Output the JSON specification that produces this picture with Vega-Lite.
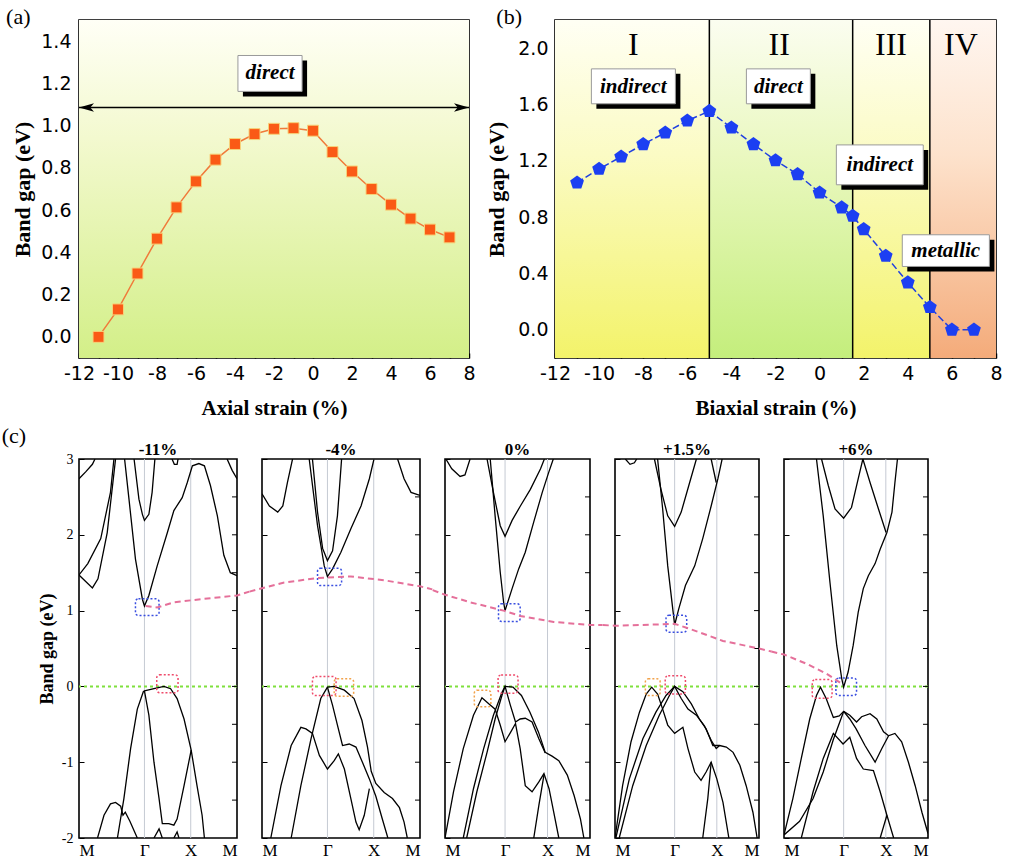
{
"$schema":"https://vega.github.io/schema/vega-lite/v6.json",
"background":"white",
"padding":{"left":0,"top":5,"right":11,"bottom":0},
"config":{"view":{"stroke":"black","strokeWidth":1.6},"axis":{"labelColor":"black","tickColor":"black","titleColor":"black","domain":false,"grid":false,"labelOverlap":false,"labelBound":false,"labelFlush":false}},
"datasets":{
"A":[{"x":-11,"y":0.0},{"x":-10,"y":0.13},{"x":-9,"y":0.30},{"x":-8,"y":0.465},{"x":-7,"y":0.613},{"x":-6,"y":0.736},{"x":-5,"y":0.839},{"x":-4,"y":0.913},{"x":-3,"y":0.96},{"x":-2,"y":0.985},{"x":-1,"y":0.988},{"x":0,"y":0.976},{"x":1,"y":0.875},{"x":2,"y":0.783},{"x":3,"y":0.70},{"x":4,"y":0.626},{"x":5,"y":0.56},{"x":6,"y":0.508},{"x":7,"y":0.471}],
"B":[{"x":-11,"y":1.045},{"x":-10,"y":1.142},{"x":-9,"y":1.229},{"x":-8,"y":1.317},{"x":-7,"y":1.40},{"x":-6,"y":1.485},{"x":-5,"y":1.553},{"x":-4,"y":1.435},{"x":-3,"y":1.317},{"x":-2,"y":1.203},{"x":-1,"y":1.104},{"x":0,"y":0.974},{"x":1,"y":0.868},{"x":1.5,"y":0.809},{"x":2,"y":0.714},{"x":3,"y":0.525},{"x":4,"y":0.336},{"x":5,"y":0.161},{"x":6,"y":0.0},{"x":7,"y":0.0}],
"kv":[{"k":1.4142},{"k":2.4142}],
"rt":[{"E":-1.5},{"E":-1},{"E":-0.5},{"E":0},{"E":0.5},{"E":1},{"E":1.5},{"E":2},{"E":2.5}],
"bands":[
{"p":1,"b":"c1","k":0,"E":2.74},{"p":1,"b":"c1","k":0.144,"E":2.83},{"p":1,"b":"c1","k":0.29,"E":2.93},{"p":1,"b":"c1","k":0.345,"E":3.0},
{"p":1,"b":"c2","k":0,"E":1.47},{"p":1,"b":"c2","k":0.19,"E":1.62},{"p":1,"b":"c2","k":0.47,"E":1.95},{"p":1,"b":"c2","k":0.68,"E":2.56},{"p":1,"b":"c2","k":0.755,"E":3.0},
{"p":1,"b":"c3","k":0,"E":1.47},{"p":1,"b":"c3","k":0.29,"E":1.30},{"p":1,"b":"c3","k":0.41,"E":1.42},{"p":1,"b":"c3","k":0.61,"E":2.03},{"p":1,"b":"c3","k":0.79,"E":3.0},
{"p":1,"b":"c4","k":0.985,"E":3.0},{"p":1,"b":"c4","k":1.08,"E":2.47},{"p":1,"b":"c4","k":1.22,"E":1.68},{"p":1,"b":"c4","k":1.37,"E":1.15},{"p":1,"b":"c4","k":1.414,"E":1.06},{"p":1,"b":"c4","k":1.51,"E":1.2},{"p":1,"b":"c4","k":1.69,"E":1.59},{"p":1,"b":"c4","k":1.91,"E":2.03},{"p":1,"b":"c4","k":2.05,"E":2.32},{"p":1,"b":"c4","k":2.23,"E":2.49},{"p":1,"b":"c4","k":2.34,"E":2.69},{"p":1,"b":"c4","k":2.45,"E":2.91},{"p":1,"b":"c4","k":2.59,"E":2.94},{"p":1,"b":"c4","k":2.71,"E":2.91},{"p":1,"b":"c4","k":2.84,"E":2.65},{"p":1,"b":"c4","k":2.99,"E":2.25},{"p":1,"b":"c4","k":3.13,"E":1.73},{"p":1,"b":"c4","k":3.27,"E":1.5},{"p":1,"b":"c4","k":3.414,"E":1.46},
{"p":1,"b":"c5","k":1.19,"E":3.0},{"p":1,"b":"c5","k":1.295,"E":2.47},{"p":1,"b":"c5","k":1.37,"E":2.27},{"p":1,"b":"c5","k":1.414,"E":2.19},{"p":1,"b":"c5","k":1.51,"E":2.27},{"p":1,"b":"c5","k":1.58,"E":2.56},{"p":1,"b":"c5","k":1.64,"E":3.0},
{"p":1,"b":"c6","k":2.01,"E":3.0},{"p":1,"b":"c6","k":2.06,"E":2.93},{"p":1,"b":"c6","k":2.12,"E":2.93},{"p":1,"b":"c6","k":2.14,"E":3.0},
{"p":1,"b":"c7","k":3.2,"E":3.0},{"p":1,"b":"c7","k":3.31,"E":2.85},{"p":1,"b":"c7","k":3.414,"E":2.74},
{"p":1,"b":"v1","k":0.83,"E":-2.0},{"p":1,"b":"v1","k":0.97,"E":-1.48},{"p":1,"b":"v1","k":1.115,"E":-0.82},{"p":1,"b":"v1","k":1.26,"E":-0.3},{"p":1,"b":"v1","k":1.39,"E":-0.07},{"p":1,"b":"v1","k":1.414,"E":-0.06},{"p":1,"b":"v1","k":1.62,"E":-0.03},{"p":1,"b":"v1","k":1.835,"E":0.0},{"p":1,"b":"v1","k":1.98,"E":-0.03},{"p":1,"b":"v1","k":2.12,"E":-0.16},{"p":1,"b":"v1","k":2.27,"E":-0.43},{"p":1,"b":"v1","k":2.424,"E":-0.84},{"p":1,"b":"v1","k":2.55,"E":-1.31},{"p":1,"b":"v1","k":2.66,"E":-1.70},{"p":1,"b":"v1","k":2.71,"E":-2.0},
{"p":1,"b":"v2","k":1.414,"E":-0.06},{"p":1,"b":"v2","k":1.51,"E":-0.38},{"p":1,"b":"v2","k":1.62,"E":-1.0},{"p":1,"b":"v2","k":1.73,"E":-1.48},{"p":1,"b":"v2","k":1.80,"E":-1.81},{"p":1,"b":"v2","k":1.94,"E":-1.81},{"p":1,"b":"v2","k":2.05,"E":-1.83},{"p":1,"b":"v2","k":2.12,"E":-1.75},{"p":1,"b":"v2","k":2.27,"E":-1.31},{"p":1,"b":"v2","k":2.424,"E":-0.84},
{"p":1,"b":"v3","k":0.40,"E":-2.0},{"p":1,"b":"v3","k":0.54,"E":-1.70},{"p":1,"b":"v3","k":0.68,"E":-1.55},{"p":1,"b":"v3","k":0.79,"E":-1.53},{"p":1,"b":"v3","k":0.9,"E":-1.58},{"p":1,"b":"v3","k":0.95,"E":-1.70},{"p":1,"b":"v3","k":1.0,"E":-1.66},{"p":1,"b":"v3","k":1.1,"E":-1.78},{"p":1,"b":"v3","k":1.26,"E":-2.0},
{"p":1,"b":"v5","k":1.62,"E":-2.0},{"p":1,"b":"v5","k":1.73,"E":-1.88},{"p":1,"b":"v5","k":1.80,"E":-2.0},
{"p":1,"b":"v6","k":2.05,"E":-2.0},{"p":1,"b":"v6","k":2.12,"E":-1.92},{"p":1,"b":"v6","k":2.16,"E":-2.0},
{"p":2,"b":"c1","k":0,"E":2.54},{"p":2,"b":"c1","k":0.16,"E":2.38},{"p":2,"b":"c1","k":0.34,"E":2.30},{"p":2,"b":"c1","k":0.45,"E":2.38},{"p":2,"b":"c1","k":0.55,"E":2.69},{"p":2,"b":"c1","k":0.66,"E":3.0},
{"p":2,"b":"c2","k":1.09,"E":3.0},{"p":2,"b":"c2","k":1.2,"E":2.3},{"p":2,"b":"c2","k":1.31,"E":1.82},{"p":2,"b":"c2","k":1.414,"E":1.66},{"p":2,"b":"c2","k":1.525,"E":1.79},{"p":2,"b":"c2","k":1.63,"E":2.25},{"p":2,"b":"c2","k":1.72,"E":3.0},
{"p":2,"b":"c3","k":1.02,"E":3.0},{"p":2,"b":"c3","k":1.20,"E":2.12},{"p":2,"b":"c3","k":1.345,"E":1.59},{"p":2,"b":"c3","k":1.414,"E":1.45},{"p":2,"b":"c3","k":1.525,"E":1.55},{"p":2,"b":"c3","k":1.705,"E":1.77},{"p":2,"b":"c3","k":1.92,"E":2.08},{"p":2,"b":"c3","k":2.14,"E":2.38},{"p":2,"b":"c3","k":2.32,"E":2.74},{"p":2,"b":"c3","k":2.42,"E":3.0},
{"p":2,"b":"c4","k":2.93,"E":3.0},{"p":2,"b":"c4","k":3.07,"E":2.74},{"p":2,"b":"c4","k":3.22,"E":2.56},{"p":2,"b":"c4","k":3.414,"E":2.52},
{"p":2,"b":"v1","k":0.63,"E":-2.0},{"p":2,"b":"v1","k":0.84,"E":-1.31},{"p":2,"b":"v1","k":1.06,"E":-0.69},{"p":2,"b":"v1","k":1.27,"E":-0.16},{"p":2,"b":"v1","k":1.414,"E":-0.01},{"p":2,"b":"v1","k":1.56,"E":0.0},{"p":2,"b":"v1","k":1.78,"E":-0.05},{"p":2,"b":"v1","k":1.99,"E":-0.16},{"p":2,"b":"v1","k":2.16,"E":-0.45},{"p":2,"b":"v1","k":2.28,"E":-0.8},{"p":2,"b":"v1","k":2.36,"E":-1.12},{"p":2,"b":"v1","k":2.46,"E":-1.28},{"p":2,"b":"v1","k":2.64,"E":-1.40},{"p":2,"b":"v1","k":2.82,"E":-1.48},{"p":2,"b":"v1","k":2.97,"E":-1.6},{"p":2,"b":"v1","k":3.07,"E":-1.79},{"p":2,"b":"v1","k":3.14,"E":-2.0},
{"p":2,"b":"v2","k":0.19,"E":-2.0},{"p":2,"b":"v2","k":0.41,"E":-1.31},{"p":2,"b":"v2","k":0.63,"E":-0.78},{"p":2,"b":"v2","k":0.84,"E":-0.54},{"p":2,"b":"v2","k":0.95,"E":-0.56},{"p":2,"b":"v2","k":1.09,"E":-0.62},{"p":2,"b":"v2","k":1.24,"E":-0.91},{"p":2,"b":"v2","k":1.414,"E":-1.09},{"p":2,"b":"v2","k":1.56,"E":-0.98},{"p":2,"b":"v2","k":1.65,"E":-0.89},{"p":2,"b":"v2","k":1.78,"E":-1.09},{"p":2,"b":"v2","k":1.92,"E":-1.48},{"p":2,"b":"v2","k":2.03,"E":-1.79},{"p":2,"b":"v2","k":2.10,"E":-1.89},{"p":2,"b":"v2","k":2.21,"E":-1.70},{"p":2,"b":"v2","k":2.32,"E":-1.35},
{"p":2,"b":"v3","k":1.414,"E":-0.01},{"p":2,"b":"v3","k":1.525,"E":-0.25},{"p":2,"b":"v3","k":1.63,"E":-0.51},{"p":2,"b":"v3","k":1.74,"E":-0.78},{"p":2,"b":"v3","k":1.885,"E":-0.76},{"p":2,"b":"v3","k":2.03,"E":-0.80},{"p":2,"b":"v3","k":2.17,"E":-1.0},{"p":2,"b":"v3","k":2.32,"E":-1.22},{"p":2,"b":"v3","k":2.46,"E":-1.45},{"p":2,"b":"v3","k":2.6,"E":-1.75},{"p":2,"b":"v3","k":2.72,"E":-2.0},
{"p":3,"b":"c1","k":0.02,"E":3.0},{"p":3,"b":"c1","k":0.16,"E":2.87},{"p":3,"b":"c1","k":0.355,"E":2.77},{"p":3,"b":"c1","k":0.47,"E":2.79},{"p":3,"b":"c1","k":0.59,"E":3.0},
{"p":3,"b":"c2","k":0.99,"E":3.0},{"p":3,"b":"c2","k":1.14,"E":2.56},{"p":3,"b":"c2","k":1.30,"E":2.12},{"p":3,"b":"c2","k":1.414,"E":1.98},{"p":3,"b":"c2","k":1.58,"E":2.19},{"p":3,"b":"c2","k":1.775,"E":2.38},{"p":3,"b":"c2","k":2.01,"E":2.60},{"p":3,"b":"c2","k":2.25,"E":2.87},{"p":3,"b":"c2","k":2.34,"E":3.0},
{"p":3,"b":"c3","k":1.065,"E":3.0},{"p":3,"b":"c3","k":1.18,"E":2.25},{"p":3,"b":"c3","k":1.30,"E":1.51},{"p":3,"b":"c3","k":1.38,"E":1.11},{"p":3,"b":"c3","k":1.414,"E":1.0},{"p":3,"b":"c3","k":1.58,"E":1.29},{"p":3,"b":"c3","k":1.735,"E":1.55},{"p":3,"b":"c3","k":1.89,"E":1.77},{"p":3,"b":"c3","k":2.09,"E":2.17},{"p":3,"b":"c3","k":2.29,"E":2.56},{"p":3,"b":"c3","k":2.44,"E":2.82},{"p":3,"b":"c3","k":2.55,"E":3.0},
{"p":3,"b":"v1","k":0.43,"E":-2.0},{"p":3,"b":"v1","k":0.67,"E":-1.35},{"p":3,"b":"v1","k":0.91,"E":-0.82},{"p":3,"b":"v1","k":1.14,"E":-0.38},{"p":3,"b":"v1","k":1.34,"E":-0.08},{"p":3,"b":"v1","k":1.414,"E":0.0},{"p":3,"b":"v1","k":1.6,"E":-0.01},{"p":3,"b":"v1","k":1.80,"E":-0.12},{"p":3,"b":"v1","k":2.0,"E":-0.34},{"p":3,"b":"v1","k":2.2,"E":-0.6},{"p":3,"b":"v1","k":2.36,"E":-0.87},{"p":3,"b":"v1","k":2.52,"E":-0.92},{"p":3,"b":"v1","k":2.68,"E":-0.98},{"p":3,"b":"v1","k":2.88,"E":-1.17},{"p":3,"b":"v1","k":3.04,"E":-1.44},{"p":3,"b":"v1","k":3.19,"E":-1.75},{"p":3,"b":"v1","k":3.27,"E":-2.0},
{"p":3,"b":"v2","k":0,"E":-2.0},{"p":3,"b":"v2","k":0.2,"E":-1.39},{"p":3,"b":"v2","k":0.43,"E":-0.82},{"p":3,"b":"v2","k":0.67,"E":-0.38},{"p":3,"b":"v2","k":0.87,"E":-0.15},{"p":3,"b":"v2","k":1.03,"E":-0.23},{"p":3,"b":"v2","k":1.18,"E":-0.30},{"p":3,"b":"v2","k":1.30,"E":-0.51},{"p":3,"b":"v2","k":1.414,"E":-0.73},{"p":3,"b":"v2","k":1.55,"E":-0.6},{"p":3,"b":"v2","k":1.66,"E":-0.49},{"p":3,"b":"v2","k":1.77,"E":-0.82},{"p":3,"b":"v2","k":1.89,"E":-1.31},{"p":3,"b":"v2","k":2.05,"E":-1.39},{"p":3,"b":"v2","k":2.21,"E":-1.26},{"p":3,"b":"v2","k":2.33,"E":-1.15},{"p":3,"b":"v2","k":2.45,"E":-1.35},{"p":3,"b":"v2","k":2.56,"E":-1.66},{"p":3,"b":"v2","k":2.68,"E":-2.0},
{"p":3,"b":"v3","k":0.51,"E":-2.0},{"p":3,"b":"v3","k":0.75,"E":-1.39},{"p":3,"b":"v3","k":0.99,"E":-0.87},{"p":3,"b":"v3","k":1.18,"E":-0.43},{"p":3,"b":"v3","k":1.34,"E":-0.12},{"p":3,"b":"v3","k":1.414,"E":0.0},{"p":3,"b":"v3","k":1.54,"E":-0.25},{"p":3,"b":"v3","k":1.66,"E":-0.47},{"p":3,"b":"v3","k":1.77,"E":-0.43},{"p":3,"b":"v3","k":1.89,"E":-0.42},{"p":3,"b":"v3","k":2.05,"E":-0.47},{"p":3,"b":"v3","k":2.21,"E":-0.69},{"p":3,"b":"v3","k":2.36,"E":-0.88},
{"p":3,"b":"v4","k":2.09,"E":-2.0},{"p":3,"b":"v4","k":2.21,"E":-1.57},{"p":3,"b":"v4","k":2.33,"E":-1.17},
{"p":4,"b":"c1","k":0.245,"E":3.0},{"p":4,"b":"c1","k":0.356,"E":2.93},{"p":4,"b":"c1","k":0.46,"E":2.95},{"p":4,"b":"c1","k":0.515,"E":3.0},
{"p":4,"b":"c2","k":0.935,"E":3.0},{"p":4,"b":"c2","k":1.09,"E":2.6},{"p":4,"b":"c2","k":1.25,"E":2.25},{"p":4,"b":"c2","k":1.414,"E":2.11},{"p":4,"b":"c2","k":1.57,"E":2.30},{"p":4,"b":"c2","k":1.75,"E":2.65},{"p":4,"b":"c2","k":1.93,"E":3.0},
{"p":4,"b":"c3","k":1.01,"E":3.0},{"p":4,"b":"c3","k":1.13,"E":2.34},{"p":4,"b":"c3","k":1.25,"E":1.59},{"p":4,"b":"c3","k":1.37,"E":1.02},{"p":4,"b":"c3","k":1.414,"E":0.81},{"p":4,"b":"c3","k":1.51,"E":1.02},{"p":4,"b":"c3","k":1.67,"E":1.33},{"p":4,"b":"c3","k":1.89,"E":1.59},{"p":4,"b":"c3","k":2.08,"E":1.95},{"p":4,"b":"c3","k":2.28,"E":2.38},{"p":4,"b":"c3","k":2.44,"E":2.74},{"p":4,"b":"c3","k":2.54,"E":3.0},
{"p":4,"b":"c4","k":2.28,"E":3.0},{"p":4,"b":"c4","k":2.40,"E":2.69},
{"p":4,"b":"v1","k":0,"E":-2.0},{"p":4,"b":"v1","k":0.18,"E":-1.31},{"p":4,"b":"v1","k":0.38,"E":-0.73},{"p":4,"b":"v1","k":0.58,"E":-0.34},{"p":4,"b":"v1","k":0.74,"E":-0.10},{"p":4,"b":"v1","k":0.87,"E":-0.01},{"p":4,"b":"v1","k":1.01,"E":-0.10},{"p":4,"b":"v1","k":1.13,"E":-0.30},{"p":4,"b":"v1","k":1.25,"E":-0.51},{"p":4,"b":"v1","k":1.414,"E":-0.62},{"p":4,"b":"v1","k":1.61,"E":-0.54},{"p":4,"b":"v1","k":1.73,"E":-0.82},{"p":4,"b":"v1","k":1.89,"E":-1.13},{"p":4,"b":"v1","k":2.04,"E":-1.24},{"p":4,"b":"v1","k":2.16,"E":-1.13},{"p":4,"b":"v1","k":2.28,"E":-1.0},{"p":4,"b":"v1","k":2.414,"E":-1.22},{"p":4,"b":"v1","k":2.56,"E":-1.53},{"p":4,"b":"v1","k":2.70,"E":-2.0},
{"p":4,"b":"v2","k":0.02,"E":-2.0},{"p":4,"b":"v2","k":0.34,"E":-1.22},{"p":4,"b":"v2","k":0.66,"E":-0.69},{"p":4,"b":"v2","k":0.97,"E":-0.34},{"p":4,"b":"v2","k":1.21,"E":-0.12},{"p":4,"b":"v2","k":1.414,"E":0.0},{"p":4,"b":"v2","k":1.61,"E":-0.07},{"p":4,"b":"v2","k":1.81,"E":-0.23},{"p":4,"b":"v2","k":2.0,"E":-0.43},{"p":4,"b":"v2","k":2.16,"E":-0.56},{"p":4,"b":"v2","k":2.32,"E":-0.78},{"p":4,"b":"v2","k":2.48,"E":-0.78},{"p":4,"b":"v2","k":2.64,"E":-0.80},{"p":4,"b":"v2","k":2.8,"E":-0.87},{"p":4,"b":"v2","k":2.96,"E":-1.04},{"p":4,"b":"v2","k":3.11,"E":-1.31},{"p":4,"b":"v2","k":3.27,"E":-1.66},{"p":4,"b":"v2","k":3.37,"E":-2.0},
{"p":4,"b":"v3","k":0.10,"E":-2.0},{"p":4,"b":"v3","k":0.42,"E":-1.31},{"p":4,"b":"v3","k":0.74,"E":-0.78},{"p":4,"b":"v3","k":1.05,"E":-0.38},{"p":4,"b":"v3","k":1.29,"E":-0.12},{"p":4,"b":"v3","k":1.414,"E":0.0},{"p":4,"b":"v3","k":1.57,"E":-0.16},{"p":4,"b":"v3","k":1.73,"E":-0.30},{"p":4,"b":"v3","k":1.93,"E":-0.38},{"p":4,"b":"v3","k":2.12,"E":-0.52},{"p":4,"b":"v3","k":2.28,"E":-0.71},{"p":4,"b":"v3","k":2.40,"E":-0.82},{"p":4,"b":"v3","k":2.48,"E":-0.78},
{"p":4,"b":"v4","k":2.08,"E":-2.0},{"p":4,"b":"v4","k":2.2,"E":-1.48},{"p":4,"b":"v4","k":2.28,"E":-1.0},
{"p":5,"b":"c1","k":0.77,"E":3.0},{"p":5,"b":"c1","k":0.93,"E":2.25},{"p":5,"b":"c1","k":1.09,"E":1.37},{"p":5,"b":"c1","k":1.25,"E":0.54},{"p":5,"b":"c1","k":1.37,"E":0.10},{"p":5,"b":"c1","k":1.414,"E":-0.01},{"p":5,"b":"c1","k":1.52,"E":0.19},{"p":5,"b":"c1","k":1.64,"E":0.54},{"p":5,"b":"c1","k":1.76,"E":0.98},{"p":5,"b":"c1","k":1.88,"E":1.29},{"p":5,"b":"c1","k":2.0,"E":1.46},{"p":5,"b":"c1","k":2.16,"E":1.62},{"p":5,"b":"c1","k":2.28,"E":1.81},{"p":5,"b":"c1","k":2.44,"E":2.03},{"p":5,"b":"c1","k":2.56,"E":2.30},{"p":5,"b":"c1","k":2.63,"E":2.69},{"p":5,"b":"c1","k":2.69,"E":3.0},
{"p":5,"b":"c2","k":0.89,"E":3.0},{"p":5,"b":"c2","k":1.05,"E":2.65},{"p":5,"b":"c2","k":1.21,"E":2.34},{"p":5,"b":"c2","k":1.414,"E":2.22},{"p":5,"b":"c2","k":1.60,"E":2.36},{"p":5,"b":"c2","k":1.76,"E":2.74},{"p":5,"b":"c2","k":1.87,"E":3.0},
{"p":5,"b":"c3","k":1.87,"E":3.0},{"p":5,"b":"c3","k":2.04,"E":2.69},{"p":5,"b":"c3","k":2.24,"E":2.34},{"p":5,"b":"c3","k":2.42,"E":2.03},
{"p":5,"b":"v1","k":0,"E":-1.96},{"p":5,"b":"v1","k":0.21,"E":-1.48},{"p":5,"b":"v1","k":0.41,"E":-0.95},{"p":5,"b":"v1","k":0.61,"E":-0.43},{"p":5,"b":"v1","k":0.77,"E":-0.12},{"p":5,"b":"v1","k":0.865,"E":-0.01},{"p":5,"b":"v1","k":1.0,"E":-0.16},{"p":5,"b":"v1","k":1.17,"E":-0.41},{"p":5,"b":"v1","k":1.31,"E":-0.39},{"p":5,"b":"v1","k":1.414,"E":-0.33},{"p":5,"b":"v1","k":1.56,"E":-0.43},{"p":5,"b":"v1","k":1.71,"E":-0.56},{"p":5,"b":"v1","k":1.92,"E":-0.78},{"p":5,"b":"v1","k":2.16,"E":-1.0},{"p":5,"b":"v1","k":2.32,"E":-0.82},{"p":5,"b":"v1","k":2.48,"E":-0.65},{"p":5,"b":"v1","k":2.63,"E":-0.62},{"p":5,"b":"v1","k":2.79,"E":-0.73},{"p":5,"b":"v1","k":2.95,"E":-1.0},{"p":5,"b":"v1","k":3.11,"E":-1.31},{"p":5,"b":"v1","k":3.27,"E":-1.66},{"p":5,"b":"v1","k":3.414,"E":-1.94},
{"p":5,"b":"v2","k":1.414,"E":-0.33},{"p":5,"b":"v2","k":1.56,"E":-0.38},{"p":5,"b":"v2","k":1.72,"E":-0.47},{"p":5,"b":"v2","k":1.84,"E":-0.40},{"p":5,"b":"v2","k":2.04,"E":-0.36},{"p":5,"b":"v2","k":2.2,"E":-0.43},{"p":5,"b":"v2","k":2.36,"E":-0.6},{"p":5,"b":"v2","k":2.48,"E":-0.65},
{"p":5,"b":"v3","k":0.41,"E":-2.0},{"p":5,"b":"v3","k":0.69,"E":-1.39},{"p":5,"b":"v3","k":0.93,"E":-0.95},{"p":5,"b":"v3","k":1.17,"E":-0.62},{"p":5,"b":"v3","k":1.40,"E":-0.76},{"p":5,"b":"v3","k":1.56,"E":-0.67},{"p":5,"b":"v3","k":1.72,"E":-0.95},{"p":5,"b":"v3","k":1.88,"E":-1.09},{"p":5,"b":"v3","k":2.12,"E":-1.11},{"p":5,"b":"v3","k":2.28,"E":-1.39},{"p":5,"b":"v3","k":2.44,"E":-1.70},{"p":5,"b":"v3","k":2.6,"E":-2.0},
{"p":5,"b":"v4","k":0,"E":-1.96},{"p":5,"b":"v4","k":0.37,"E":-1.78},{"p":5,"b":"v4","k":0.69,"E":-1.48},{"p":5,"b":"v4","k":0.93,"E":-1.13},{"p":5,"b":"v4","k":1.17,"E":-0.70},{"p":5,"b":"v4","k":1.414,"E":-0.33},
{"p":5,"b":"v5","k":2.28,"E":-2.0},{"p":5,"b":"v5","k":2.44,"E":-1.70}
],
"boxes":[
{"p":1,"kind":"c","k1":1.22,"k2":1.73,"E1":0.935,"E2":1.155},{"p":1,"kind":"v","k1":1.68,"k2":2.14,"E1":-0.084,"E2":0.153},
{"p":2,"kind":"c","k1":1.20,"k2":1.72,"E1":1.33,"E2":1.56},{"p":2,"kind":"v","k1":1.09,"k2":1.60,"E1":-0.12,"E2":0.13},{"p":2,"kind":"o","k1":1.56,"k2":1.98,"E1":-0.13,"E2":0.10},
{"p":3,"kind":"c","k1":1.26,"k2":1.77,"E1":0.856,"E2":1.09},{"p":3,"kind":"v","k1":1.25,"k2":1.72,"E1":-0.09,"E2":0.15},{"p":3,"kind":"o","k1":0.69,"k2":1.08,"E1":-0.27,"E2":-0.05},
{"p":4,"kind":"c","k1":1.21,"k2":1.70,"E1":0.715,"E2":0.94},{"p":4,"kind":"v","k1":1.19,"k2":1.67,"E1":-0.1,"E2":0.14},{"p":4,"kind":"o","k1":0.72,"k2":1.07,"E1":-0.12,"E2":0.10},
{"p":5,"kind":"c","k1":1.23,"k2":1.72,"E1":-0.12,"E2":0.11},{"p":5,"kind":"v","k1":0.67,"k2":1.14,"E1":-0.155,"E2":0.09}
],
"pink":[
{"p":1,"k":1.44,"E":1.06},{"p":1,"k":1.69,"E":1.04},{"p":1,"k":2.05,"E":1.11},{"p":1,"k":2.63,"E":1.15},{"p":1,"k":3.414,"E":1.2},{"p":1,"k":3.68,"E":1.25},
{"p":2,"k":-0.27,"E":1.25},{"p":2,"k":0,"E":1.295},{"p":2,"k":0.48,"E":1.37},{"p":2,"k":1.2,"E":1.43},{"p":2,"k":1.92,"E":1.45},{"p":2,"k":2.64,"E":1.40},{"p":2,"k":3.414,"E":1.32},{"p":2,"k":3.68,"E":1.28},
{"p":3,"k":-0.29,"E":1.27},{"p":3,"k":0,"E":1.21},{"p":3,"k":0.59,"E":1.11},{"p":3,"k":1.38,"E":1.0},{"p":3,"k":1.77,"E":0.93},{"p":3,"k":2.56,"E":0.85},{"p":3,"k":3.414,"E":0.81},{"p":3,"k":3.71,"E":0.81},
{"p":4,"k":-0.29,"E":0.81},{"p":4,"k":0,"E":0.80},{"p":4,"k":0.58,"E":0.81},{"p":4,"k":1.414,"E":0.825},{"p":4,"k":1.77,"E":0.76},{"p":4,"k":2.56,"E":0.60},{"p":4,"k":3.414,"E":0.50},{"p":4,"k":3.71,"E":0.46},
{"p":5,"k":-0.3,"E":0.46},{"p":5,"k":0,"E":0.42},{"p":5,"k":0.53,"E":0.30},{"p":5,"k":1.0,"E":0.17},{"p":5,"k":1.33,"E":0.05}
],
"ttl":[{"p":1,"k":1.7071,"E":3.115,"t":"-11%"},{"p":2,"k":1.7071,"E":3.115,"t":"-4%"},{"p":3,"k":1.7071,"E":3.115,"t":"0%"},{"p":4,"k":1.7071,"E":3.115,"t":"+1.5%"},{"p":5,"k":1.7071,"E":3.115,"t":"+6%"}]
},
"spacing":5,
"vconcat":[
{"hconcat":[
{"width":390,"height":338,
"encoding":{"x":{"field":"x","type":"quantitative","scale":{"domain":[-12,8]},"axis":{"values":[-12,-11,-10,-9,-8,-7,-6,-5,-4,-3,-2,-1,0,1,2,3,4,5,6,7,8],"labelExpr":"round(datum.value) % 2 == 0 ? '' + datum.value : ''","labelOverlap":false,"labelFlush":false,"tickSize":-5,"tickWidth":1.5,"labelPadding":11,"labelFont":"DejaVu Sans","labelFontSize":19,"title":"Axial strain (%)","titleFont":"Liberation Serif","titleFontSize":21,"titleFontWeight":"bold","titlePadding":14}},
"y":{"field":"y","type":"quantitative","scale":{"domain":[-0.1,1.5]},"axis":{"values":[0,0.1,0.2,0.3,0.4,0.5,0.6,0.7,0.8,0.9,1.0,1.1,1.2,1.3,1.4],"labelExpr":"round(datum.value*10) % 2 == 0 ? format(datum.value, '.1f') : ''","labelOverlap":false,"tickSize":-5,"tickWidth":1.5,"labelPadding":13,"labelFont":"DejaVu Sans","labelFontSize":19,"title":"Band gap (eV)","titleFont":"Liberation Serif","titleFontSize":22,"titleFontWeight":"bold","titlePadding":6}}},
"layer":[
{"data":{"values":[{"x":-12,"x2":8,"y":-0.1,"y2":1.5}]},"mark":{"type":"rect","color":{"gradient":"linear","x1":0,"y1":0,"x2":0,"y2":1,"stops":[{"offset":0,"color":"#fffff6"},{"offset":0.35,"color":"#f3f9cf"},{"offset":1,"color":"#d3ef88"}]}},"encoding":{"x2":{"field":"x2"},"y2":{"field":"y2"}}},
{"data":{"values":[{"x":-12,"x2":8,"y":1.086}]},"mark":{"type":"rule","color":"black","strokeWidth":1.5},"encoding":{"x2":{"field":"x2"}}},
{"data":{"values":[{"x":-12,"y":1.086,"dir":"l"},{"x":8,"y":1.086,"dir":"r"}]},"mark":{"type":"point","filled":true,"color":"black","size":900,"opacity":1},
"encoding":{"shape":{"field":"dir","type":"nominal","scale":{"domain":["l","r"],"range":["M0,0L1,-0.28L0.75,0L1,0.28Z","M0,0L-1,-0.28L-0.75,0L-1,0.28Z"]},"legend":null}}},
{"data":{"values":[{"x":-3.85,"x2":-0.56,"y":1.162,"y2":1.332}]},"mark":{"type":"rect","color":"black","xOffset":5,"x2Offset":5,"yOffset":5,"y2Offset":5},"encoding":{"x2":{"field":"x2"},"y2":{"field":"y2"}}},
{"data":{"values":[{"x":-3.85,"x2":-0.56,"y":1.162,"y2":1.332}]},"mark":{"type":"rect","fill":"white","stroke":"#9a9a9a","strokeWidth":1},"encoding":{"x2":{"field":"x2"},"y2":{"field":"y2"}}},
{"data":{"values":[{"x":-2.2,"y":1.247,"t":"direct"}]},"mark":{"type":"text","align":"center","baseline":"middle","font":"Liberation Serif","fontSize":21,"fontStyle":"italic","fontWeight":"bold","color":"black"},"encoding":{"text":{"field":"t"}}},
{"data":{"values":[{"x":-15.74,"y":1.514,"t":"(a)"}]},"mark":{"type":"text","align":"left","baseline":"middle","font":"Liberation Serif","fontSize":22,"color":"black"},"encoding":{"text":{"field":"t"}}},
{"data":{"name":"A"},"mark":{"type":"line","color":"#f07a3a","strokeWidth":1.5},"encoding":{}},
{"data":{"name":"A"},"mark":{"type":"point","shape":"square","filled":true,"size":120,"color":"#fa5a16","opacity":1,"stroke":"#f6d27a","strokeWidth":1},"encoding":{}}
]},
{"width":441,"height":338,
"encoding":{"x":{"field":"x","type":"quantitative","scale":{"domain":[-12,8]},"axis":{"values":[-12,-11,-10,-9,-8,-7,-6,-5,-4,-3,-2,-1,0,1,2,3,4,5,6,7,8],"labelExpr":"round(datum.value) % 2 == 0 ? '' + datum.value : ''","labelOverlap":false,"labelFlush":false,"tickSize":-5,"tickWidth":1.5,"labelPadding":11,"labelFont":"DejaVu Sans","labelFontSize":19,"title":"Biaxial strain (%)","titleFont":"Liberation Serif","titleFontSize":21,"titleFontWeight":"bold","titlePadding":14}},
"y":{"field":"y","type":"quantitative","scale":{"domain":[-0.2,2.2]},"axis":{"values":[0,0.2,0.4,0.6,0.8,1.0,1.2,1.4,1.6,1.8,2.0],"labelExpr":"round(datum.value*10) % 4 == 0 ? format(datum.value, '.1f') : ''","labelOverlap":false,"tickSize":-5,"tickWidth":1.5,"labelPadding":12,"labelFont":"DejaVu Sans","labelFontSize":19,"title":"Band gap (eV)","titleFont":"Liberation Serif","titleFontSize":22,"titleFontWeight":"bold","titlePadding":9}}},
"layer":[
{"data":{"values":[{"x":-12,"x2":-5,"y":-0.2,"y2":2.2}]},"mark":{"type":"rect","color":{"gradient":"linear","x1":0,"y1":0,"x2":0,"y2":1,"stops":[{"offset":0,"color":"#fffff4"},{"offset":0.4,"color":"#fbfbc4"},{"offset":1,"color":"#f3f36a"}]}},"encoding":{"x2":{"field":"x2"},"y2":{"field":"y2"}}},
{"data":{"values":[{"x":-5,"x2":1.5,"y":-0.2,"y2":2.2}]},"mark":{"type":"rect","color":{"gradient":"linear","x1":0,"y1":0,"x2":0,"y2":1,"stops":[{"offset":0,"color":"#fbfdf0"},{"offset":0.4,"color":"#eaf8c0"},{"offset":1,"color":"#c4ee7c"}]}},"encoding":{"x2":{"field":"x2"},"y2":{"field":"y2"}}},
{"data":{"values":[{"x":1.5,"x2":5,"y":-0.2,"y2":2.2}]},"mark":{"type":"rect","color":{"gradient":"linear","x1":0,"y1":0,"x2":0,"y2":1,"stops":[{"offset":0,"color":"#fffff4"},{"offset":0.4,"color":"#fbfbc4"},{"offset":1,"color":"#f3f36a"}]}},"encoding":{"x2":{"field":"x2"},"y2":{"field":"y2"}}},
{"data":{"values":[{"x":5,"x2":8,"y":-0.2,"y2":2.2}]},"mark":{"type":"rect","color":{"gradient":"linear","x1":0,"y1":0,"x2":0,"y2":1,"stops":[{"offset":0,"color":"#fff6f0"},{"offset":0.4,"color":"#fde2cc"},{"offset":1,"color":"#f4ab7a"}]}},"encoding":{"x2":{"field":"x2"},"y2":{"field":"y2"}}},
{"data":{"values":[{"x":-5,"y":-0.2,"y2":2.2},{"x":1.5,"y":-0.2,"y2":2.2},{"x":5,"y":-0.2,"y2":2.2}]},"mark":{"type":"rule","color":"black","strokeWidth":1.5},"encoding":{"y2":{"field":"y2"}}},
{"data":{"values":[{"x":-10.35,"x2":-6.54,"y":1.605,"y2":1.853},{"x":-3.32,"x2":-0.42,"y":1.605,"y2":1.853},{"x":0.76,"x2":4.7,"y":1.03,"y2":1.313},{"x":3.75,"x2":7.7,"y":0.45,"y2":0.675}]},"mark":{"type":"rect","color":"black","xOffset":5,"x2Offset":5,"yOffset":5,"y2Offset":5},"encoding":{"x2":{"field":"x2"},"y2":{"field":"y2"}}},
{"data":{"values":[{"x":-10.35,"x2":-6.54,"y":1.605,"y2":1.853},{"x":-3.32,"x2":-0.42,"y":1.605,"y2":1.853},{"x":0.76,"x2":4.7,"y":1.03,"y2":1.313},{"x":3.75,"x2":7.7,"y":0.45,"y2":0.675}]},"mark":{"type":"rect","fill":"white","stroke":"#9a9a9a","strokeWidth":1},"encoding":{"x2":{"field":"x2"},"y2":{"field":"y2"}}},
{"data":{"values":[{"x":-8.45,"y":1.725,"t":"indirect"},{"x":-1.87,"y":1.725,"t":"direct"},{"x":2.73,"y":1.168,"t":"indirect"},{"x":5.72,"y":0.56,"t":"metallic"}]},"mark":{"type":"text","align":"center","baseline":"middle","font":"Liberation Serif","fontSize":21,"fontStyle":"italic","fontWeight":"bold","color":"black"},"encoding":{"text":{"field":"t"}}},
{"data":{"values":[{"x":-8.45,"y":2.02,"t":"I"},{"x":-1.83,"y":2.02,"t":"II"},{"x":3.24,"y":2.02,"t":"III"},{"x":6.41,"y":2.02,"t":"IV"}]},"mark":{"type":"text","align":"center","baseline":"middle","font":"Liberation Serif","fontSize":32,"color":"black"},"encoding":{"text":{"field":"t"}}},
{"data":{"values":[{"x":-14.66,"y":2.22,"t":"(b)"}]},"mark":{"type":"text","align":"left","baseline":"middle","font":"Liberation Serif","fontSize":22,"color":"black"},"encoding":{"text":{"field":"t"}}},
{"data":{"name":"B"},"mark":{"type":"line","color":"#2040e0","strokeWidth":1.5,"strokeDash":[7,3]},"encoding":{}},
{"data":{"name":"B"},"mark":{"type":"point","shape":"M0,-1L0.951,-0.309L0.588,0.809L-0.588,0.809L-0.951,-0.309Z","filled":true,"size":210,"color":"#1c3ff2","opacity":1},"encoding":{}}
]}
],"spacing":86,"bounds":"flush"},
{"hconcat":[
{"width":158,"height":379,
"layer":[
{"data":{"name":"kv"},"mark":{"type":"rule","color":"#c5cad3","strokeWidth":1},"encoding":{"x":{"field":"k","type":"quantitative","scale":{"domain":[0,3.4142]},"axis":{"values":[0,1.4142,2.4142,3.4142],"labelExpr":"datum.value < 0.5 ? 'M' : datum.value < 2 ? 'Γ' : datum.value < 3 ? 'X' : 'M'","ticks":false,"labelFont":"Liberation Serif","labelFontSize":17,"labelPadding":4,"labelFlush":true,"labelOverlap":false,"title":null}}}},
{"data":{"values":[{"E":0}]},"mark":{"type":"rule","color":"#7fe03c","strokeWidth":2,"strokeDash":[3,3]},"encoding":{"y":{"field":"E","type":"quantitative","scale":{"domain":[-2,3]},"axis":{"values":[-2,-1.5,-1,-0.5,0,0.5,1,1.5,2,2.5,3],"tickSize":-5,"labelPadding":11,"labelOverlap":false,"labelExpr":"datum.value % 1 == 0 ? '' + datum.value : ''","labelFont":"Liberation Serif","labelFontSize":14,"title":"Band gap (eV)","titleFont":"Liberation Serif","titleFontSize":18,"titleFontWeight":"bold","titlePadding":5}}}},
{"data":{"name":"rt"},"mark":{"type":"tick","orient":"horizontal","size":5,"thickness":1,"color":"black","xOffset":-2.5,"opacity":1},"encoding":{"x":{"datum":3.4142,"type":"quantitative","scale":{"domain":[0,3.4142]}},"y":{"field":"E","type":"quantitative","scale":{"domain":[-2,3]}}}},
{"data":{"name":"bands"},"transform":[{"filter":"datum.p == 1"}],"mark":{"type":"line","color":"black","strokeWidth":1.3,"clip":true},"encoding":{"x":{"field":"k","type":"quantitative","scale":{"domain":[0,3.4142]}},"y":{"field":"E","type":"quantitative","scale":{"domain":[-2,3]}},"detail":{"field":"b"}}},
{"data":{"name":"boxes"},"transform":[{"filter":"datum.p == 1"}],"mark":{"type":"rect","filled":false,"strokeWidth":1.5,"strokeDash":[2,2],"cornerRadius":3},"encoding":{"x":{"field":"k1","type":"quantitative","scale":{"domain":[0,3.4142]}},"x2":{"field":"k2"},"y":{"field":"E1","type":"quantitative","scale":{"domain":[-2,3]}},"y2":{"field":"E2"},"color":{"field":"kind","type":"nominal","scale":{"domain":["c","v","o"],"range":["#3a4fe0","#ef4a6a","#f2a24a"]},"legend":null}}},
{"data":{"name":"pink"},"transform":[{"filter":"datum.p == 1"}],"mark":{"type":"line","color":"#e5709a","strokeWidth":2,"strokeDash":[6,4]},"encoding":{"x":{"field":"k","type":"quantitative","scale":{"domain":[0,3.4142]}},"y":{"field":"E","type":"quantitative","scale":{"domain":[-2,3]}}}},
{"data":{"name":"ttl"},"transform":[{"filter":"datum.p == 1"}],"mark":{"type":"text","align":"center","baseline":"middle","font":"Liberation Serif","fontSize":17,"fontWeight":"bold","color":"black"},"encoding":{"x":{"field":"k","type":"quantitative","scale":{"domain":[0,3.4142]}},"y":{"field":"E","type":"quantitative","scale":{"domain":[-2,3]}},"text":{"field":"t"}}},
{"data":{"values":[{"k":-1.67,"E":3.30,"t":"(c)"}]},"mark":{"type":"text","align":"left","baseline":"middle","font":"Liberation Serif","fontSize":22,"color":"black"},"encoding":{"x":{"field":"k","type":"quantitative","scale":{"domain":[0,3.4142]}},"y":{"field":"E","type":"quantitative","scale":{"domain":[-2,3]}},"text":{"field":"t"}}}
]},
{"width":158,"height":379,
"layer":[
{"data":{"name":"kv"},"mark":{"type":"rule","color":"#c5cad3","strokeWidth":1},"encoding":{"x":{"field":"k","type":"quantitative","scale":{"domain":[0,3.4142]},"axis":{"values":[0,1.4142,2.4142,3.4142],"labelExpr":"datum.value < 0.5 ? 'M' : datum.value < 2 ? 'Γ' : datum.value < 3 ? 'X' : 'M'","ticks":false,"labelFont":"Liberation Serif","labelFontSize":17,"labelPadding":4,"labelFlush":true,"labelOverlap":false,"title":null}}}},
{"data":{"values":[{"E":0}]},"mark":{"type":"rule","color":"#7fe03c","strokeWidth":2,"strokeDash":[3,3]},"encoding":{"y":{"field":"E","type":"quantitative","scale":{"domain":[-2,3]},"axis":{"values":[-2,-1.5,-1,-0.5,0,0.5,1,1.5,2,2.5,3],"tickSize":-5,"labels":false,"title":null}}}},
{"data":{"name":"rt"},"mark":{"type":"tick","orient":"horizontal","size":5,"thickness":1,"color":"black","xOffset":-2.5,"opacity":1},"encoding":{"x":{"datum":3.4142,"type":"quantitative","scale":{"domain":[0,3.4142]}},"y":{"field":"E","type":"quantitative","scale":{"domain":[-2,3]}}}},
{"data":{"name":"bands"},"transform":[{"filter":"datum.p == 2"}],"mark":{"type":"line","color":"black","strokeWidth":1.3,"clip":true},"encoding":{"x":{"field":"k","type":"quantitative","scale":{"domain":[0,3.4142]}},"y":{"field":"E","type":"quantitative","scale":{"domain":[-2,3]}},"detail":{"field":"b"}}},
{"data":{"name":"boxes"},"transform":[{"filter":"datum.p == 2"}],"mark":{"type":"rect","filled":false,"strokeWidth":1.5,"strokeDash":[2,2],"cornerRadius":3},"encoding":{"x":{"field":"k1","type":"quantitative","scale":{"domain":[0,3.4142]}},"x2":{"field":"k2"},"y":{"field":"E1","type":"quantitative","scale":{"domain":[-2,3]}},"y2":{"field":"E2"},"color":{"field":"kind","type":"nominal","scale":{"domain":["c","v","o"],"range":["#3a4fe0","#ef4a6a","#f2a24a"]},"legend":null}}},
{"data":{"name":"pink"},"transform":[{"filter":"datum.p == 2"}],"mark":{"type":"line","color":"#e5709a","strokeWidth":2,"strokeDash":[6,4]},"encoding":{"x":{"field":"k","type":"quantitative","scale":{"domain":[0,3.4142]}},"y":{"field":"E","type":"quantitative","scale":{"domain":[-2,3]}}}},
{"data":{"name":"ttl"},"transform":[{"filter":"datum.p == 2"}],"mark":{"type":"text","align":"center","baseline":"middle","font":"Liberation Serif","fontSize":17,"fontWeight":"bold","color":"black"},"encoding":{"x":{"field":"k","type":"quantitative","scale":{"domain":[0,3.4142]}},"y":{"field":"E","type":"quantitative","scale":{"domain":[-2,3]}},"text":{"field":"t"}}}
]},
{"width":145,"height":379,
"layer":[
{"data":{"name":"kv"},"mark":{"type":"rule","color":"#c5cad3","strokeWidth":1},"encoding":{"x":{"field":"k","type":"quantitative","scale":{"domain":[0,3.4142]},"axis":{"values":[0,1.4142,2.4142,3.4142],"labelExpr":"datum.value < 0.5 ? 'M' : datum.value < 2 ? 'Γ' : datum.value < 3 ? 'X' : 'M'","ticks":false,"labelFont":"Liberation Serif","labelFontSize":17,"labelPadding":4,"labelFlush":true,"labelOverlap":false,"title":null}}}},
{"data":{"values":[{"E":0}]},"mark":{"type":"rule","color":"#7fe03c","strokeWidth":2,"strokeDash":[3,3]},"encoding":{"y":{"field":"E","type":"quantitative","scale":{"domain":[-2,3]},"axis":{"values":[-2,-1.5,-1,-0.5,0,0.5,1,1.5,2,2.5,3],"tickSize":-5,"labels":false,"title":null}}}},
{"data":{"name":"rt"},"mark":{"type":"tick","orient":"horizontal","size":5,"thickness":1,"color":"black","xOffset":-2.5,"opacity":1},"encoding":{"x":{"datum":3.4142,"type":"quantitative","scale":{"domain":[0,3.4142]}},"y":{"field":"E","type":"quantitative","scale":{"domain":[-2,3]}}}},
{"data":{"name":"bands"},"transform":[{"filter":"datum.p == 3"}],"mark":{"type":"line","color":"black","strokeWidth":1.3,"clip":true},"encoding":{"x":{"field":"k","type":"quantitative","scale":{"domain":[0,3.4142]}},"y":{"field":"E","type":"quantitative","scale":{"domain":[-2,3]}},"detail":{"field":"b"}}},
{"data":{"name":"boxes"},"transform":[{"filter":"datum.p == 3"}],"mark":{"type":"rect","filled":false,"strokeWidth":1.5,"strokeDash":[2,2],"cornerRadius":3},"encoding":{"x":{"field":"k1","type":"quantitative","scale":{"domain":[0,3.4142]}},"x2":{"field":"k2"},"y":{"field":"E1","type":"quantitative","scale":{"domain":[-2,3]}},"y2":{"field":"E2"},"color":{"field":"kind","type":"nominal","scale":{"domain":["c","v","o"],"range":["#3a4fe0","#ef4a6a","#f2a24a"]},"legend":null}}},
{"data":{"name":"pink"},"transform":[{"filter":"datum.p == 3"}],"mark":{"type":"line","color":"#e5709a","strokeWidth":2,"strokeDash":[6,4]},"encoding":{"x":{"field":"k","type":"quantitative","scale":{"domain":[0,3.4142]}},"y":{"field":"E","type":"quantitative","scale":{"domain":[-2,3]}}}},
{"data":{"name":"ttl"},"transform":[{"filter":"datum.p == 3"}],"mark":{"type":"text","align":"center","baseline":"middle","font":"Liberation Serif","fontSize":17,"fontWeight":"bold","color":"black"},"encoding":{"x":{"field":"k","type":"quantitative","scale":{"domain":[0,3.4142]}},"y":{"field":"E","type":"quantitative","scale":{"domain":[-2,3]}},"text":{"field":"t"}}}
]},
{"width":144,"height":379,
"layer":[
{"data":{"name":"kv"},"mark":{"type":"rule","color":"#c5cad3","strokeWidth":1},"encoding":{"x":{"field":"k","type":"quantitative","scale":{"domain":[0,3.4142]},"axis":{"values":[0,1.4142,2.4142,3.4142],"labelExpr":"datum.value < 0.5 ? 'M' : datum.value < 2 ? 'Γ' : datum.value < 3 ? 'X' : 'M'","ticks":false,"labelFont":"Liberation Serif","labelFontSize":17,"labelPadding":4,"labelFlush":true,"labelOverlap":false,"title":null}}}},
{"data":{"values":[{"E":0}]},"mark":{"type":"rule","color":"#7fe03c","strokeWidth":2,"strokeDash":[3,3]},"encoding":{"y":{"field":"E","type":"quantitative","scale":{"domain":[-2,3]},"axis":{"values":[-2,-1.5,-1,-0.5,0,0.5,1,1.5,2,2.5,3],"tickSize":-5,"labels":false,"title":null}}}},
{"data":{"name":"rt"},"mark":{"type":"tick","orient":"horizontal","size":5,"thickness":1,"color":"black","xOffset":-2.5,"opacity":1},"encoding":{"x":{"datum":3.4142,"type":"quantitative","scale":{"domain":[0,3.4142]}},"y":{"field":"E","type":"quantitative","scale":{"domain":[-2,3]}}}},
{"data":{"name":"bands"},"transform":[{"filter":"datum.p == 4"}],"mark":{"type":"line","color":"black","strokeWidth":1.3,"clip":true},"encoding":{"x":{"field":"k","type":"quantitative","scale":{"domain":[0,3.4142]}},"y":{"field":"E","type":"quantitative","scale":{"domain":[-2,3]}},"detail":{"field":"b"}}},
{"data":{"name":"boxes"},"transform":[{"filter":"datum.p == 4"}],"mark":{"type":"rect","filled":false,"strokeWidth":1.5,"strokeDash":[2,2],"cornerRadius":3},"encoding":{"x":{"field":"k1","type":"quantitative","scale":{"domain":[0,3.4142]}},"x2":{"field":"k2"},"y":{"field":"E1","type":"quantitative","scale":{"domain":[-2,3]}},"y2":{"field":"E2"},"color":{"field":"kind","type":"nominal","scale":{"domain":["c","v","o"],"range":["#3a4fe0","#ef4a6a","#f2a24a"]},"legend":null}}},
{"data":{"name":"pink"},"transform":[{"filter":"datum.p == 4"}],"mark":{"type":"line","color":"#e5709a","strokeWidth":2,"strokeDash":[6,4]},"encoding":{"x":{"field":"k","type":"quantitative","scale":{"domain":[0,3.4142]}},"y":{"field":"E","type":"quantitative","scale":{"domain":[-2,3]}}}},
{"data":{"name":"ttl"},"transform":[{"filter":"datum.p == 4"}],"mark":{"type":"text","align":"center","baseline":"middle","font":"Liberation Serif","fontSize":17,"fontWeight":"bold","color":"black"},"encoding":{"x":{"field":"k","type":"quantitative","scale":{"domain":[0,3.4142]}},"y":{"field":"E","type":"quantitative","scale":{"domain":[-2,3]}},"text":{"field":"t"}}}
]},
{"width":144,"height":379,
"layer":[
{"data":{"name":"kv"},"mark":{"type":"rule","color":"#c5cad3","strokeWidth":1},"encoding":{"x":{"field":"k","type":"quantitative","scale":{"domain":[0,3.4142]},"axis":{"values":[0,1.4142,2.4142,3.4142],"labelExpr":"datum.value < 0.5 ? 'M' : datum.value < 2 ? 'Γ' : datum.value < 3 ? 'X' : 'M'","ticks":false,"labelFont":"Liberation Serif","labelFontSize":17,"labelPadding":4,"labelFlush":true,"labelOverlap":false,"title":null}}}},
{"data":{"values":[{"E":0}]},"mark":{"type":"rule","color":"#7fe03c","strokeWidth":2,"strokeDash":[3,3]},"encoding":{"y":{"field":"E","type":"quantitative","scale":{"domain":[-2,3]},"axis":{"values":[-2,-1.5,-1,-0.5,0,0.5,1,1.5,2,2.5,3],"tickSize":-5,"labels":false,"title":null}}}},
{"data":{"name":"rt"},"mark":{"type":"tick","orient":"horizontal","size":5,"thickness":1,"color":"black","xOffset":-2.5,"opacity":1},"encoding":{"x":{"datum":3.4142,"type":"quantitative","scale":{"domain":[0,3.4142]}},"y":{"field":"E","type":"quantitative","scale":{"domain":[-2,3]}}}},
{"data":{"name":"bands"},"transform":[{"filter":"datum.p == 5"}],"mark":{"type":"line","color":"black","strokeWidth":1.3,"clip":true},"encoding":{"x":{"field":"k","type":"quantitative","scale":{"domain":[0,3.4142]}},"y":{"field":"E","type":"quantitative","scale":{"domain":[-2,3]}},"detail":{"field":"b"}}},
{"data":{"name":"boxes"},"transform":[{"filter":"datum.p == 5"}],"mark":{"type":"rect","filled":false,"strokeWidth":1.5,"strokeDash":[2,2],"cornerRadius":3},"encoding":{"x":{"field":"k1","type":"quantitative","scale":{"domain":[0,3.4142]}},"x2":{"field":"k2"},"y":{"field":"E1","type":"quantitative","scale":{"domain":[-2,3]}},"y2":{"field":"E2"},"color":{"field":"kind","type":"nominal","scale":{"domain":["c","v","o"],"range":["#3a4fe0","#ef4a6a","#f2a24a"]},"legend":null}}},
{"data":{"name":"pink"},"transform":[{"filter":"datum.p == 5"}],"mark":{"type":"line","color":"#e5709a","strokeWidth":2,"strokeDash":[6,4]},"encoding":{"x":{"field":"k","type":"quantitative","scale":{"domain":[0,3.4142]}},"y":{"field":"E","type":"quantitative","scale":{"domain":[-2,3]}}}},
{"data":{"name":"ttl"},"transform":[{"filter":"datum.p == 5"}],"mark":{"type":"text","align":"center","baseline":"middle","font":"Liberation Serif","fontSize":17,"fontWeight":"bold","color":"black"},"encoding":{"x":{"field":"k","type":"quantitative","scale":{"domain":[0,3.4142]}},"y":{"field":"E","type":"quantitative","scale":{"domain":[-2,3]}},"text":{"field":"t"}}}
]}
],"spacing":25,"bounds":"flush"}
]
}
